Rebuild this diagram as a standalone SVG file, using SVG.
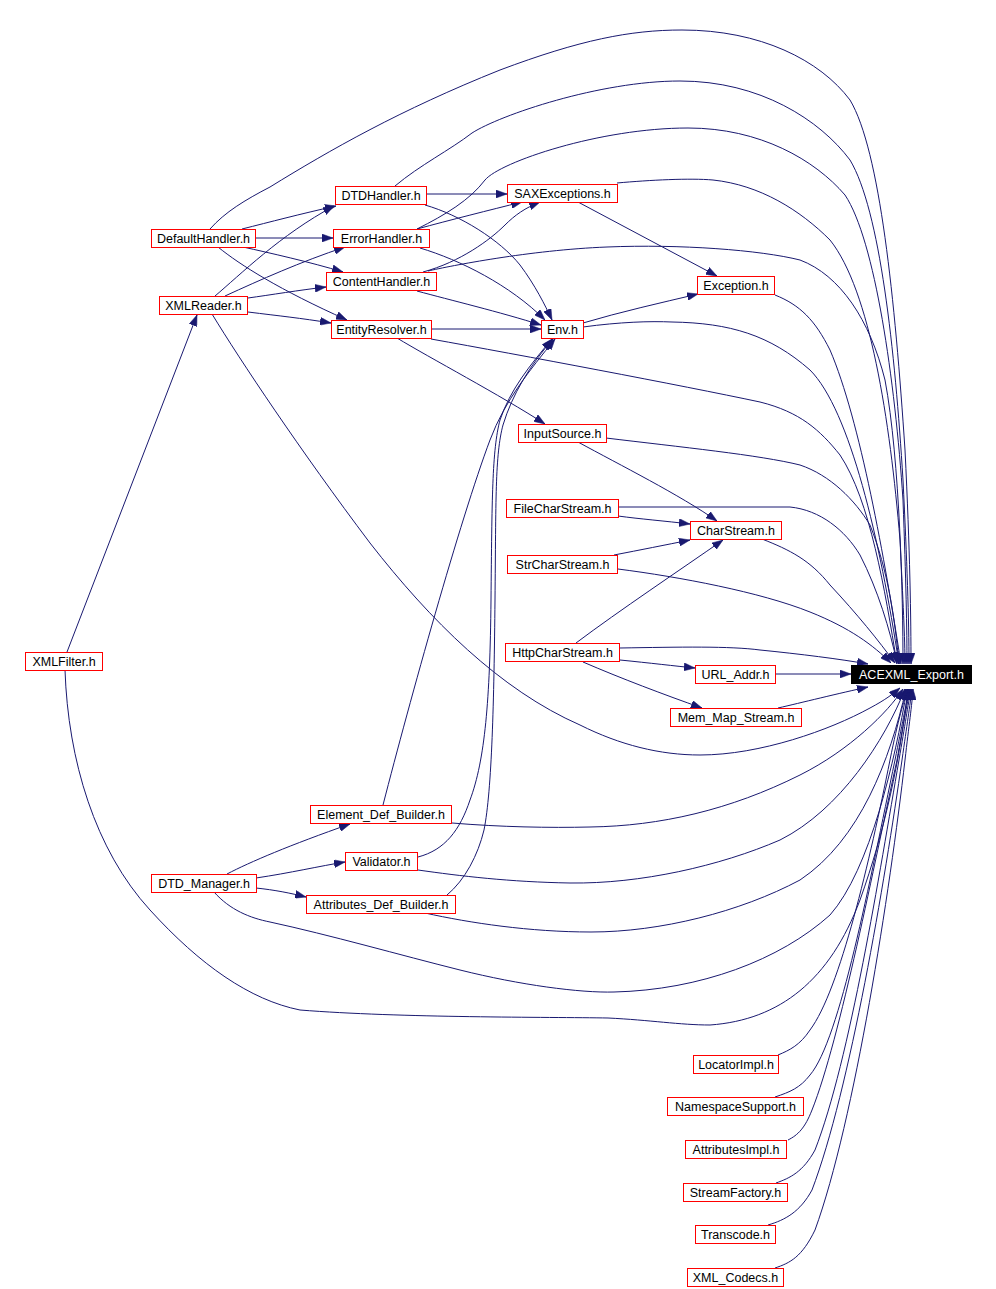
<svg xmlns="http://www.w3.org/2000/svg" width="996" height="1289" viewBox="0 0 996 1289">
<style>
.e{fill:none;stroke:#191970;stroke-width:1;marker-end:url(#ah)}
.n rect{fill:#ffffff;stroke:#ff0000;stroke-width:1}
.n text{font-family:"Liberation Sans",Arial,sans-serif;font-size:12.5px;fill:#000000;text-anchor:middle}
.root rect{fill:#000000;stroke:#000000}
.root text{fill:#ffffff}
</style>
<defs>
<marker id="ah" viewBox="0 0 11 8" refX="11" refY="4" markerWidth="11" markerHeight="8" markerUnits="userSpaceOnUse" orient="auto">
<path d="M0,0 L11,4 L0,8 Z" fill="#191970" stroke="#191970" stroke-width="0.5"/>
</marker>
</defs>
<rect width="996" height="1289" fill="#ffffff"/>
<g id="edges">
<path class="e" d="M210,229 C225,212 245,200 270,187 C330,150 400,110 500,70 C580,40 630,30 682,30 C760,30 820,60 850,100 C880,150 895,300 905,450 C910,550 911,620 911,664"/>
<path class="e" d="M395,186 C420,165 450,150 472,133 C500,115 600,81 680,81 C760,81 820,120 850,160 C880,210 895,350 903,480 C907,560 909,620 909,664"/>
<path class="e" d="M417,229 C445,215 470,200 485,180 C500,162 600,128 688,128 C760,128 815,160 845,195 C875,240 895,380 903,500 C906,580 907,630 907,664"/>
<path class="e" d="M617,183 C650,180 690,178 713,180 C760,185 800,210 830,240 C870,290 890,420 900,540 C903,600 905,640 905,664"/>
<path class="e" d="M428,271 C450,266 530,250 607,247 C680,244 760,250 800,260 C840,275 870,320 885,380 C900,460 903,600 903,664"/>
<path class="e" d="M775,295 C800,305 815,320 830,350 C860,420 885,560 901,664"/>
<path class="e" d="M583,327 C620,322 650,321 672,322 C730,323 770,335 810,370 C850,410 880,540 899,664"/>
<path class="e" d="M431,339 C520,355 680,385 760,402 C800,412 820,430 840,455 C870,500 885,590 897,664"/>
<path class="e" d="M606,438 C680,447 760,455 800,465 C830,475 855,500 870,525 C888,570 895,620 899,664"/>
<path class="e" d="M618,507 L790,507 C820,510 845,530 860,555 C878,590 890,630 897,663"/>
<path class="e" d="M762,539 C790,550 810,560 830,585 C858,615 878,640 895,663"/>
<path class="e" d="M618,569 C680,577 760,592 810,612 C850,628 873,645 891,663"/>
<path class="e" d="M620,648 C680,647 730,646 760,650 C800,654 840,659 868,664"/>
<path class="e" d="M775,674 L851,674"/>
<path class="e" d="M778,708 C800,703 840,693 868,687"/>
<path class="e" d="M212,314 C240,360 300,450 370,543 C430,620 500,690 580,725 C620,745 660,755 700,755 C760,755 830,730 870,708 C885,700 893,694 900,688"/>
<path class="e" d="M452,823 C500,827 550,828 590,827 C660,826 730,810 800,775 C850,750 888,712 903,689"/>
<path class="e" d="M418,870 C460,876 510,882 570,883 C640,884 720,866 780,840 C840,810 885,740 905,689"/>
<path class="e" d="M425,913 C470,923 530,932 591,932 C660,932 740,912 800,880 C860,840 890,760 906,689"/>
<path class="e" d="M214,892 C230,910 250,918 270,922 C330,935 400,955 460,970 C520,985 580,993 614,992 C700,990 780,960 830,915 C870,870 895,760 907,689"/>
<path class="e" d="M65,670 C68,760 95,850 150,910 C200,965 250,1000 300,1010 C400,1018 550,1017 608,1018 C650,1020 680,1025 710,1025 C780,1020 830,980 860,900 C885,830 900,760 908,689"/>
<path class="e" d="M778,1055 C790,1050 800,1045 810,1030 C840,990 870,860 890,760 C898,720 904,700 908,689"/>
<path class="e" d="M775,1097 C790,1092 800,1088 810,1075 C840,1040 870,880 895,760 C902,725 906,705 909,689"/>
<path class="e" d="M788,1140 C798,1135 805,1128 812,1110 C840,1040 875,860 897,760 C903,725 907,705 910,689"/>
<path class="e" d="M776,1183 C790,1178 803,1172 815,1150 C850,1060 880,870 899,760 C905,725 908,705 911,689"/>
<path class="e" d="M768,1225 C785,1220 800,1212 812,1190 C850,1090 885,880 902,760 C907,725 910,705 912,689"/>
<path class="e" d="M775,1268 C790,1263 802,1257 815,1230 C855,1120 890,890 905,760 C909,725 912,705 913,689"/>
<path class="e" d="M242,229 C270,222 300,214 336,206"/>
<path class="e" d="M255,238 L333,238"/>
<path class="e" d="M243,247 C270,253 310,262 343,272"/>
<path class="e" d="M218,247 C240,265 280,290 347,320"/>
<path class="e" d="M215,296 C240,275 280,235 334,206"/>
<path class="e" d="M225,296 C260,280 300,262 345,247"/>
<path class="e" d="M248,298 C270,295 300,290 326,287"/>
<path class="e" d="M248,312 C280,316 300,318 331,323"/>
<path class="e" d="M67,652 L197,315"/>
<path class="e" d="M426,194 L507,194"/>
<path class="e" d="M425,205 C460,215 500,240 520,265 C535,285 545,305 552,320"/>
<path class="e" d="M420,248 C460,260 510,285 545,320"/>
<path class="e" d="M417,229 C450,220 490,210 522,202"/>
<path class="e" d="M423,272 C460,262 490,240 505,225 C515,215 525,208 540,202"/>
<path class="e" d="M417,291 C450,300 500,312 541,325"/>
<path class="e" d="M431,329 L541,329"/>
<path class="e" d="M397,338 C430,358 500,395 545,424"/>
<path class="e" d="M578,202 L717,276"/>
<path class="e" d="M583,323 C620,312 660,303 698,294"/>
<path class="e" d="M578,442 C620,465 680,495 717,521"/>
<path class="e" d="M618,516 C640,519 665,521 690,524"/>
<path class="e" d="M614,555 C640,550 665,545 690,540"/>
<path class="e" d="M576,643 C620,610 680,570 723,540"/>
<path class="e" d="M620,660 C650,663 675,666 695,668"/>
<path class="e" d="M583,662 C620,678 665,695 702,708"/>
<path class="e" d="M383,805 C410,700 460,520 490,440 C505,400 530,370 555,339"/>
<path class="e" d="M418,857 C445,850 460,830 470,800 C485,760 490,700 491,600 C492,500 492,450 500,420 C510,390 530,365 552,339"/>
<path class="e" d="M447,895 C465,880 478,855 484,830 C492,790 494,700 495,600 C496,500 495,455 503,425 C512,395 530,365 553,339"/>
<path class="e" d="M227,874 C250,862 290,845 350,824"/>
<path class="e" d="M256,878 C290,873 320,866 345,862"/>
<path class="e" d="M256,888 C275,890 290,893 306,897"/>
</g>
<g id="node-DTDHandler" class="n"><rect x="335.5" y="186.5" width="91" height="18"/><text x="381" y="200">DTDHandler.h</text></g>
<g id="node-DefaultHandler" class="n"><rect x="151.5" y="229.5" width="104" height="18"/><text x="203.5" y="243">DefaultHandler.h</text></g>
<g id="node-ErrorHandler" class="n"><rect x="333.5" y="229.5" width="96" height="18"/><text x="381.5" y="243">ErrorHandler.h</text></g>
<g id="node-ContentHandler" class="n"><rect x="326.5" y="272.5" width="110" height="18"/><text x="381.5" y="286">ContentHandler.h</text></g>
<g id="node-XMLReader" class="n"><rect x="159.5" y="296.5" width="88" height="18"/><text x="203.5" y="310">XMLReader.h</text></g>
<g id="node-EntityResolver" class="n"><rect x="331.5" y="320.5" width="100" height="18"/><text x="381.5" y="334">EntityResolver.h</text></g>
<g id="node-SAXExceptions" class="n"><rect x="507.5" y="184.5" width="110" height="18"/><text x="562.5" y="198">SAXExceptions.h</text></g>
<g id="node-Exception" class="n"><rect x="697.5" y="276.5" width="77" height="18"/><text x="736" y="290">Exception.h</text></g>
<g id="node-Env" class="n"><rect x="541.5" y="320.5" width="42" height="18"/><text x="562.5" y="334">Env.h</text></g>
<g id="node-InputSource" class="n"><rect x="518.5" y="424.5" width="88" height="18"/><text x="562.5" y="438">InputSource.h</text></g>
<g id="node-FileCharStream" class="n"><rect x="506.5" y="499.5" width="112" height="18"/><text x="562.5" y="513">FileCharStream.h</text></g>
<g id="node-CharStream" class="n"><rect x="690.5" y="521.5" width="91" height="18"/><text x="736" y="535">CharStream.h</text></g>
<g id="node-StrCharStream" class="n"><rect x="507.5" y="555.5" width="110" height="18"/><text x="562.5" y="569">StrCharStream.h</text></g>
<g id="node-HttpCharStream" class="n"><rect x="505.5" y="643.5" width="114" height="18"/><text x="562.5" y="657">HttpCharStream.h</text></g>
<g id="node-URL_Addr" class="n"><rect x="695.5" y="665.5" width="80" height="18"/><text x="735.5" y="679">URL_Addr.h</text></g>
<g id="node-ACEXML_Export" class="n root"><rect x="851.5" y="665.5" width="120" height="18"/><text x="911.5" y="679">ACEXML_Export.h</text></g>
<g id="node-Mem_Map_Stream" class="n"><rect x="670.5" y="708.5" width="131" height="18"/><text x="736" y="722">Mem_Map_Stream.h</text></g>
<g id="node-XMLFilter" class="n"><rect x="25.5" y="652.5" width="77" height="18"/><text x="64" y="666">XMLFilter.h</text></g>
<g id="node-Element_Def_Builder" class="n"><rect x="310.5" y="805.5" width="141" height="18"/><text x="381" y="819">Element_Def_Builder.h</text></g>
<g id="node-Validator" class="n"><rect x="345.5" y="852.5" width="72" height="18"/><text x="381.5" y="866">Validator.h</text></g>
<g id="node-DTD_Manager" class="n"><rect x="151.5" y="874.5" width="105" height="18"/><text x="204" y="888">DTD_Manager.h</text></g>
<g id="node-Attributes_Def_Builder" class="n"><rect x="306.5" y="895.5" width="149" height="18"/><text x="381" y="909">Attributes_Def_Builder.h</text></g>
<g id="node-LocatorImpl" class="n"><rect x="693.5" y="1055.5" width="85" height="18"/><text x="736" y="1069">LocatorImpl.h</text></g>
<g id="node-NamespaceSupport" class="n"><rect x="667.5" y="1097.5" width="136" height="18"/><text x="735.5" y="1111">NamespaceSupport.h</text></g>
<g id="node-AttributesImpl" class="n"><rect x="685.5" y="1140.5" width="101" height="18"/><text x="736" y="1154">AttributesImpl.h</text></g>
<g id="node-StreamFactory" class="n"><rect x="683.5" y="1183.5" width="104" height="18"/><text x="735.5" y="1197">StreamFactory.h</text></g>
<g id="node-Transcode" class="n"><rect x="695.5" y="1225.5" width="80" height="18"/><text x="735.5" y="1239">Transcode.h</text></g>
<g id="node-XML_Codecs" class="n"><rect x="687.5" y="1268.5" width="96" height="18"/><text x="735.5" y="1282">XML_Codecs.h</text></g>
</svg>
